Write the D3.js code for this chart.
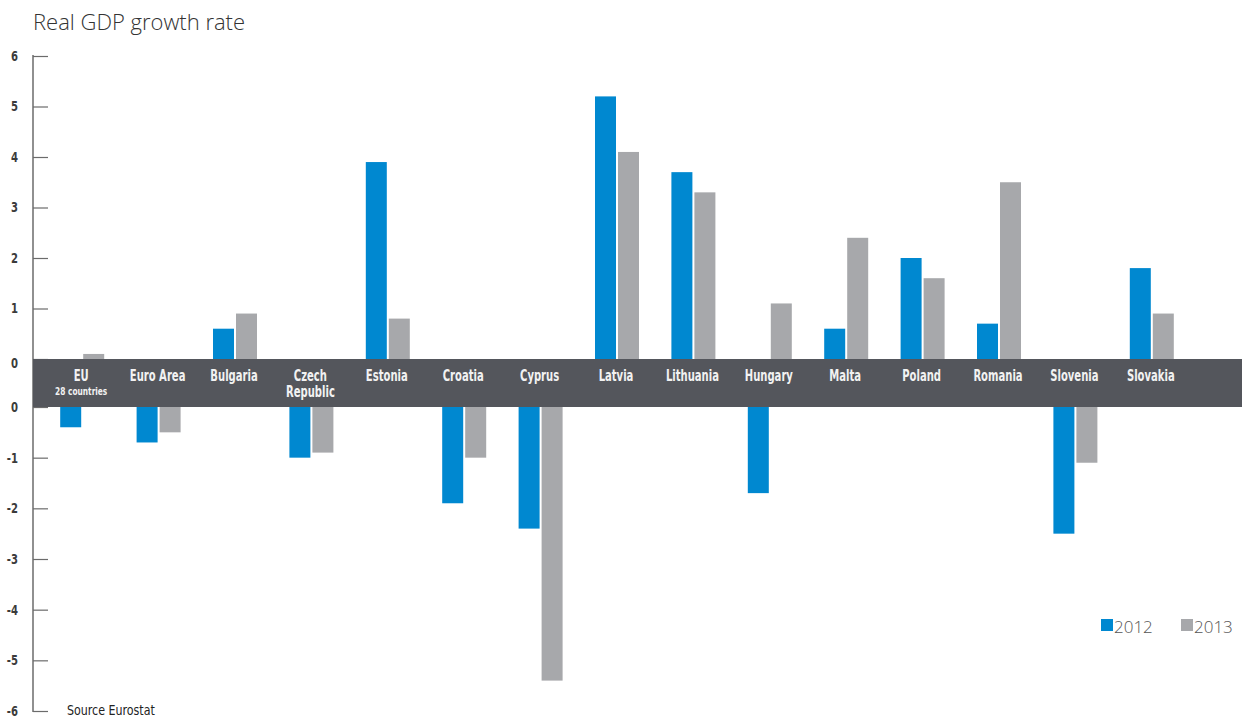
<!DOCTYPE html>
<html>
<head>
<meta charset="utf-8">
<script src="https://cdn.jsdelivr.net/npm/d3@7"></script>
<style>
  html, body { margin: 0; padding: 0; background: #ffffff; }
  svg { display: block; }
</style>
</head>
<body>
<svg id="chart" width="1246" height="718"></svg>
<script>
// Real GDP growth rate, 2012 vs 2013 (Eurostat)
const countries = ["EU", "Euro Area", "Bulgaria", "Czech Republic", "Estonia", "Croatia", "Cyprus",
  "Latvia", "Lithuania", "Hungary", "Malta", "Poland", "Romania", "Slovenia", "Slovakia"];
const countryLines = [["EU"], ["Euro Area"], ["Bulgaria"], ["Czech", "Republic"], ["Estonia"], ["Croatia"], ["Cyprus"],
  ["Latvia"], ["Lithuania"], ["Hungary"], ["Malta"], ["Poland"], ["Romania"], ["Slovenia"], ["Slovakia"]];
const subLabels = ["28 countries", "", "", "", "", "", "", "", "", "", "", "", "", "", ""];
const years = ["2012", "2013"];
const growth2012 = [-0.4, -0.7, 0.6, -1.0, 3.9, -1.9, -2.4, 5.2, 3.7, -1.7, 0.6, 2.0, 0.7, -2.5, 1.8];
const growth2013 = [0.1, -0.5, 0.9, -0.9, 0.8, -1.0, -5.4, 4.1, 3.3, 1.1, 2.4, 1.6, 3.5, -1.1, 0.9];
const posTicks = [0, 1, 2, 3, 4, 5, 6];
const negTicks = [-6, -5, -4, -3, -2, -1, 0];

const colors = { "2012": "#0088d0", "2013": "#a7a8ab" };
const bandColor = "#54565c";
const textDark = "#3b3b3b";
const condensed = "'DejaVu Sans Condensed', 'Liberation Sans Narrow', sans-serif";

const svg = d3.select("#chart");

const axisX = 33;
const bandTop = 359, bandBottom = 407;

// Split vertical scale: positive values above the label band, negative below it
const yPos = d3.scaleLinear().domain([0, 6]).range([bandTop, 56]);
const yNeg = d3.scaleLinear().domain([-6, 0]).range([711, bandBottom]);

const x0 = d3.scaleBand().domain(countries).range([44, 1190]).padding(0);
const x1 = d3.scaleBand().domain(years)
  .range([x0.bandwidth() / 2 - 22, x0.bandwidth() / 2 + 22])
  .paddingInner(2 / 23).paddingOuter(0);

// Title
svg.append("text")
  .attr("x", 33).attr("y", 30)
  .attr("font-family", "'Open Sans', sans-serif")
  .attr("font-weight", 300)
  .attr("font-size", 22)
  .attr("fill", "#333")
  .text("Real GDP growth rate");

// Axis line
svg.append("line")
  .attr("x1", axisX).attr("x2", axisX)
  .attr("y1", 55).attr("y2", 712)
  .attr("stroke", "#6b6b6b").attr("stroke-width", 1.5);

function styleAxis(g) {
  g.select(".domain").remove();
  g.selectAll(".tick line").attr("stroke", "#6b6b6b").attr("stroke-width", 1.2);
  g.selectAll(".tick text")
    .attr("x", 0)
    .attr("transform", "translate(-15,0) scale(0.8,1)")
    .attr("font-family", condensed)
    .attr("font-weight", "bold")
    .attr("font-size", 14)
    .attr("fill", textDark);
}

const tickFmt = d => String(d);

svg.append("g")
  .attr("transform", `translate(${axisX},0)`)
  .call(d3.axisLeft(yPos).tickValues(posTicks).tickFormat(tickFmt)
    .tickSize(-15).tickSizeOuter(0).tickPadding(15))
  .call(styleAxis)
  .call(g => g.selectAll(".tick text").filter(d => d === 0).attr("dy", "0.6em"));

svg.append("g")
  .attr("transform", `translate(${axisX},0)`)
  .call(d3.axisLeft(yNeg).tickValues(negTicks).tickFormat(tickFmt)
    .tickSize(-15).tickSizeOuter(0).tickPadding(15))
  .call(styleAxis);

// Bars
const rows = countries.map((c, i) => ({ country: c, values: [
  { year: "2012", value: growth2012[i] },
  { year: "2013", value: growth2013[i] }
]}));

const groups = svg.append("g").selectAll("g")
  .data(rows).join("g")
  .attr("transform", d => `translate(${x0(d.country)},0)`);

groups.selectAll("rect")
  .data(d => d.values).join("rect")
  .attr("x", d => x1(d.year))
  .attr("width", x1.bandwidth())
  .attr("y", d => d.value >= 0 ? yPos(d.value) : bandBottom)
  .attr("height", d => d.value >= 0 ? bandTop - yPos(d.value) : yNeg(d.value) - bandBottom)
  .attr("fill", d => colors[d.year]);

// Label band
svg.append("rect")
  .attr("x", axisX).attr("y", bandTop)
  .attr("width", 1242 - axisX).attr("height", bandBottom - bandTop)
  .attr("fill", bandColor);

// Country names, one text per line so wrapped names stack cleanly
const labelLines = [];
countries.forEach((c, i) => {
  countryLines[i].forEach((line, j) => labelLines.push({ country: c, line, row: j }));
});

svg.append("g").selectAll("text")
  .data(labelLines).join("text")
  .attr("transform", d => `translate(${x0(d.country) + x0.bandwidth() / 2 - 1},${381 + d.row * 16}) scale(0.72,1)`)
  .attr("text-anchor", "middle")
  .attr("font-family", condensed)
  .attr("font-weight", "bold")
  .attr("font-size", 15.5)
  .attr("fill", "#f2f2f2")
  .text(d => d.line);

svg.append("g").selectAll("text")
  .data(countries.filter((c, i) => subLabels[i])).join("text")
  .attr("transform", d => `translate(${x0(d) + x0.bandwidth() / 2 - 1},395) scale(0.75,1)`)
  .attr("text-anchor", "middle")
  .attr("font-family", condensed)
  .attr("font-weight", "bold")
  .attr("font-size", 11)
  .attr("fill", "#f2f2f2")
  .text(d => subLabels[countries.indexOf(d)]);

// Legend
const legend = svg.append("g").selectAll("g")
  .data(years).join("g")
  .attr("transform", (d, i) => `translate(${1101 + i * 80},619)`);
legend.append("rect")
  .attr("width", 12).attr("height", 12)
  .attr("fill", d => colors[d]);
legend.append("text")
  .attr("x", 13).attr("y", 14)
  .attr("font-family", "'Open Sans', sans-serif")
  .attr("font-weight", 300)
  .attr("font-size", 17)
  .attr("fill", "#555")
  .text(d => d);

// Source note
svg.append("text")
  .attr("transform", "translate(67,715) scale(0.88,1)")
  .attr("font-family", condensed)
  .attr("font-size", 14)
  .attr("fill", "#222")
  .text("Source Eurostat");
</script>
</body>
</html>
